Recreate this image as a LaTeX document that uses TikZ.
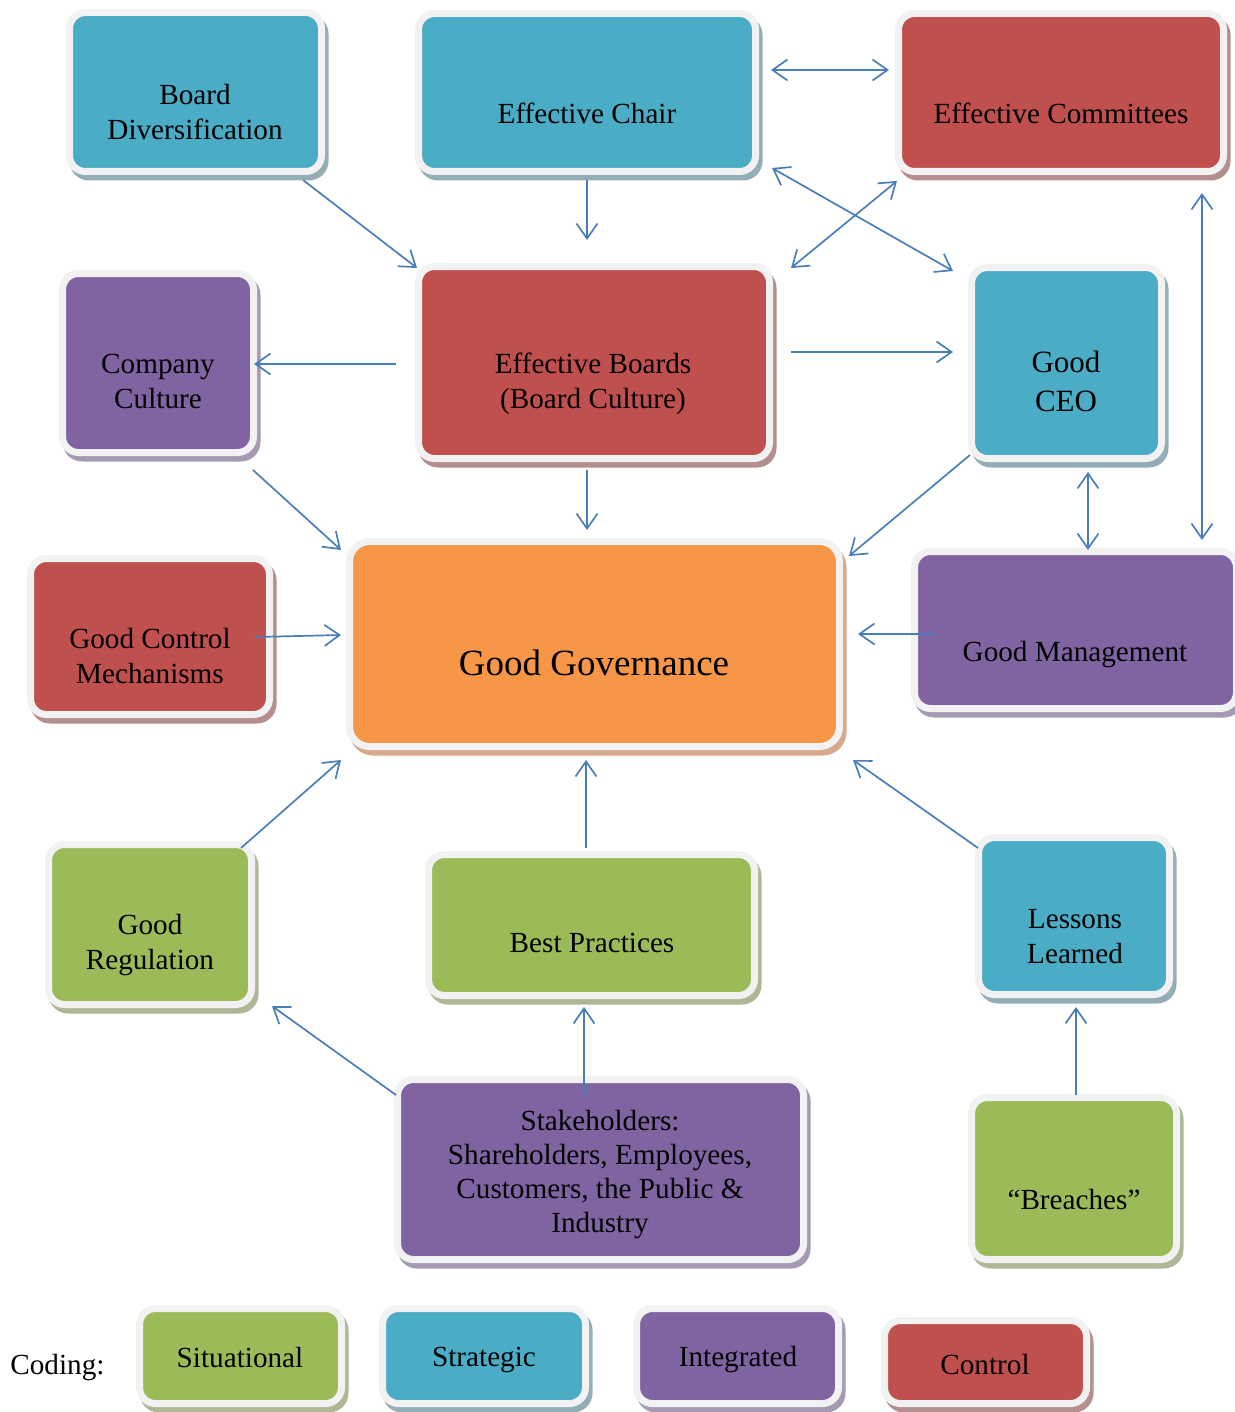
\documentclass[tikz,border=0pt]{standalone}
\usepackage{fontspec}
\setmainfont{Liberation Serif}
\usetikzlibrary{arrows.meta,calc}

\definecolor{cblue}{HTML}{4BACC6}
\definecolor{cred}{HTML}{C0504D}
\definecolor{cpurple}{HTML}{8064A2}
\definecolor{cgreen}{HTML}{9BBB59}
\definecolor{corange}{HTML}{F79646}
\definecolor{sblue}{HTML}{93AEB6}
\definecolor{sred}{HTML}{B68E8E}
\definecolor{spurple}{HTML}{A59AB2}
\definecolor{sgreen}{HTML}{AEB897}
\definecolor{sorange}{HTML}{D6AA8C}
\definecolor{rim}{HTML}{F2F2F2}
\definecolor{linkblue}{HTML}{4A7EBB}

\begin{document}
\begin{tikzpicture}[x=0.5pt,y=-0.5pt,
  gbox/.style={rectangle, rounded corners=8pt, draw=rim, line width=3.5pt,
      inner sep=0pt, outer sep=0pt},
  shade/.style={preaction={draw=#1, fill=#1, line width=3.5pt,
      transform canvas={shift={(1.75pt,-2.75pt)}}}},
  fblue/.style={gbox, shade=sblue, fill=cblue},
  fred/.style={gbox, shade=sred, fill=cred},
  fpurple/.style={gbox, shade=spurple, fill=cpurple},
  fgreen/.style={gbox, shade=sgreen, fill=cgreen},
  forange/.style={gbox, shade=sorange, fill=corange, rounded corners=10pt},
  lbl/.style={align=center, inner sep=0pt, text=black,
      font=\fontsize{14.6}{17.5}\selectfont},
  arr/.style={draw=linkblue, line width=0.85pt,
      -{Straight Barb[length=7.5pt,width=10.5pt]}},
  darr/.style={draw=linkblue, line width=0.85pt,
      {Straight Barb[length=7.5pt,width=10.5pt]}-{Straight Barb[length=7.5pt,width=10.5pt]}}
]
\useasboundingbox (0,0) rectangle (1235,1412);

% boxes
\node[fblue,   minimum width=126pt,   minimum height=79.5pt] (bd)    at (195.5,92)   {};
\node[fblue,   minimum width=168.5pt, minimum height=79pt]   (chair) at (587,92.5)   {};
\node[fred,    minimum width=162.5pt, minimum height=79pt]   (comm)  at (1061,92.5)  {};
\node[fpurple, minimum width=95.5pt,  minimum height=89.5pt] (cult)  at (158,363)    {};
\node[fred,    minimum width=175.5pt, minimum height=96pt]   (boards) at (594,362.5) {};
\node[fblue,   minimum width=95pt,    minimum height=95.5pt] (ceo)   at (1066.5,363) {};
\node[fred,    minimum width=119.5pt, minimum height=78pt]   (ctrl)  at (150,636.5)  {};
\node[forange, minimum width=245pt,   minimum height=102.5pt] (gov)  at (594.5,644)  {};
\node[fpurple, minimum width=161pt,   minimum height=78.5pt] (mgmt)  at (1075.5,630) {};
\node[fgreen,  minimum width=101.5pt, minimum height=80pt]   (reg)   at (150,924.5)  {};
\node[fgreen,  minimum width=163pt,   minimum height=70.5pt] (best)  at (591.5,925)  {};
\node[fblue,   minimum width=95.5pt,  minimum height=78.5pt] (less)  at (1074,916)   {};
\node[fpurple, minimum width=203pt,   minimum height=90pt]   (stake) at (600.5,1169.5) {};
\node[fgreen,  minimum width=102.5pt, minimum height=81pt]   (brch)  at (1074,1178.5) {};

% legend boxes
\node[fgreen,  minimum width=101pt,   minimum height=47.5pt] (kS) at (240.5,1356) {};
\node[fblue,   minimum width=101.5pt, minimum height=47.5pt] (kT) at (484,1356)   {};
\node[fpurple, minimum width=101pt,   minimum height=47.5pt] (kI) at (737.5,1356) {};
\node[fred,    minimum width=101pt,   minimum height=41.5pt] (kC) at (985.5,1362) {};

% texts
\node[lbl] (bd-t)    at (195,112)  {Board\\Diversification};
\node[lbl] (chair-t) at (587,113)  {Effective Chair};
\node[lbl] (comm-t)  at (1061,113) {Effective Committees};
\node[lbl] (cult-t)  at (158,381)  {Company\\Culture};
\node[lbl] (boards-t) at (593,384) {Effective Boards\\(Board Culture)};
\node[lbl, font=\fontsize{15.5}{19.5}\selectfont] (ceo-t) at (1066,381) {Good\\CEO};
\node[lbl] (ctrl-t)  at (150,656)  {Good Control\\Mechanisms};
\node[lbl, font=\fontsize{18.5}{22}\selectfont] (gov-t) at (594,663) {Good Governance};
\node[lbl] (mgmt-t)  at (1075,655) {Good Management};
\node[lbl] (reg-t)   at (150,945)  {Good\\Regulation};
\node[lbl] (best-t)  at (592,943)  {Best Practices};
\node[lbl] (less-t)  at (1075,937) {Lessons\\Learned};
\node[lbl, font=\fontsize{14.6}{17}\selectfont] (stake-t) at (600,1175)
  {Stakeholders:\\Shareholders, Employees,\\Customers, the Public \&\\Industry};
\node[lbl] (brch-t)  at (1074,1199) {“Breaches”};
\node[lbl] (kS-t) at (240,1357) {Situational};
\node[lbl] (kT-t) at (484,1360) {Strategic};
\node[lbl] (kI-t) at (738,1360) {Integrated};
\node[lbl] (kC-t) at (985,1364) {Control};
\node[lbl, anchor=west] (coding) at (10,1368) {Coding:};

% connectors
\draw[arr]  ($(bd.south east)+(-18.5,8.5)$) -- ($(boards.north west)+(-1.5,1.5)$);
\draw[arr]  ($(chair.south)+(0,8.5)$) -- ($(chair.south |- boards.north)+(0,-26.5)$);
\draw[darr] ($(chair.north east)+(15.5,56.5)$) -- ($(comm.north west)+(-9.5,56.5)$);
\draw[darr] ($(chair.south east)+(16.5,-3.5)$) -- ($(ceo.north west)+(-18.5,3.5)$);
\draw[darr] ($(comm.south west)+(-1.5,9.5)$) -- ($(boards.north east)+(21.5,1.5)$);
\draw[darr] ($(comm.south east)+(-21.5,21.5)$) -- ($(mgmt.north east)+(-34.5,-11.5)$);
\draw[arr]  ($(boards.west)+(-22.5,1.5)$) -- ($(cult.east)+(0.5,1)$);
\draw[arr]  ($(boards.east)+(21.5,-10.5)$) -- ($(ceo.west)+(-18.5,-11)$);
\draw[arr]  ($(boards.south)+(-7,11.5)$) -- ($(gov.north)+(-7.5,-11.5)$);
\draw[arr]  ($(cult.south east)+(-0.5,17.5)$) -- ($(gov.north west)+(-8.5,8.5)$);
\draw[arr]  ($(ceo.south west)+(-1.5,-3.5)$) -- ($(gov.north east)+(9.5,14.5)$);
\draw[darr] ($(ceo.south)+(21.5,13.5)$) -- ($(mgmt.north)+(12.5,-1.5)$);
\draw[arr]  ($(ctrl.east)+(-14.5,0.5)$) -- ($(gov.west)+(-8.5,-9)$);
\draw[arr]  ($(mgmt.west)+(20.5,4)$) -- ($(gov.east)+(18.5,-10)$);
\draw[arr]  ($(reg.north east)+(-10.5,3.5)$) -- ($(gov.south west)+(-8.5,13.5)$);
\draw[arr]  ($(best.north)+(-5.5,-6.5)$) -- ($(gov.south)+(-8.5,13.5)$);
\draw[arr]  ($(less.north west)+(-0.5,10.5)$) -- ($(gov.south east)+(13.5,13.5)$);
\draw[arr]  ($(stake.north west)+(-1.5,15.5)$) -- ($(reg.south east)+(20.5,1.5)$);
\draw[arr]  ($(stake.north)+(-16.5,15.5)$) -- ($(best.south)+(-7.5,11.5)$);
\draw[arr]  ($(brch.north)+(2,-2.5)$) -- ($(less.south)+(2,12.5)$);
\end{tikzpicture}
\end{document}
